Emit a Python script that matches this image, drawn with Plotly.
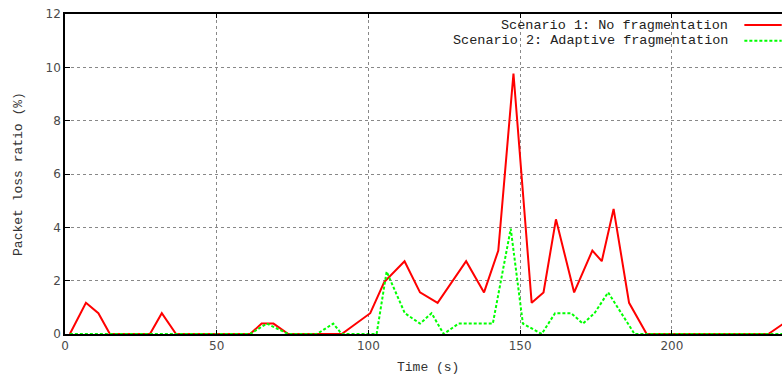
import plotly.graph_objects as go

# Tiempo (s) y tasa de pérdida de paquetes (%)
red_x = [1.6, 6.9, 11.0, 14.8, 28.0, 31.9, 36.6, 61.0, 64.8, 68.7, 73.6, 91.2,
         100.6, 105.2, 111.9, 117.0, 122.8, 127.4, 132.2, 138.1, 142.8, 147.8,
         153.8, 157.7, 161.8, 167.8, 173.8, 176.9, 180.8, 185.9, 191.7, 231.8, 236.8]
red_y = [0, 1.17, 0.78, 0, 0, 0.78, 0, 0, 0.39, 0.39, 0, 0,
         0.78, 1.95, 2.73, 1.56, 1.17, 1.95, 2.73, 1.56, 3.13, 9.77,
         1.17, 1.56, 4.30, 1.56, 3.13, 2.73, 4.69, 1.17, 0, 0, 0.39]

green_x = [1.6, 61.0, 66.5, 73.6, 83.0, 88.4, 91.2, 102.7, 106.0, 112.0, 117.0,
           120.8, 124.8, 129.7, 141.0, 146.9, 150.9, 157.1, 161.5, 166.8, 170.7,
           174.5, 179.0, 187.7, 236.8]
green_y = [0, 0, 0.39, 0, 0, 0.39, 0, 0, 2.34, 0.78, 0.39,
           0.78, 0, 0.39, 0.39, 3.95, 0.39, 0, 0.78, 0.78, 0.39,
           0.78, 1.56, 0, 0]

labels = ['Scenario 1: No fragmentation', 'Scenario 2: Adaptive fragmentation']
colors = ['#ff0000', '#00ff00']
dashes = ['solid', '3px,2px']

mono = 'Liberation Mono, Courier New, monospace'

fig = go.Figure()
fig.add_trace(go.Scatter(x=red_x, y=red_y, mode='lines', name=labels[0],
                         line=dict(color=colors[0], width=2, dash=dashes[0])))
fig.add_trace(go.Scatter(x=green_x, y=green_y, mode='lines', name=labels[1],
                         line=dict(color=colors[1], width=2, dash=dashes[1])))

# leyenda al estilo gnuplot (texto a la izquierda, muestra a la derecha)
leg_y = [0.9656, 0.9166]
for i in range(2):
    fig.add_annotation(x=0.9275, y=leg_y[i], xref='paper', yref='paper',
                       text=labels[i], showarrow=False, xanchor='right',
                       yanchor='middle', font=dict(family=mono, size=13.5, color='#222'))
    fig.add_shape(type='line', xref='paper', yref='paper',
                  x0=0.9475, x1=0.9996, y0=leg_y[i], y1=leg_y[i],
                  line=dict(color=colors[i], width=2, dash=dashes[i]))

# títulos de ejes como anotaciones para fijar su posición
fig.add_annotation(x=0.506, y=-0.106, xref='paper', yref='paper', text='Time (s)',
                   showarrow=False, xanchor='center', yanchor='middle',
                   font=dict(family=mono, size=13, color='#333'))
fig.add_annotation(x=-0.0656, y=0.5, xref='paper', yref='paper',
                   text='Packet loss ratio (%)', textangle=-90, showarrow=False,
                   xanchor='center', yanchor='middle',
                   font=dict(family=mono, size=13, color='#333'))

fig.update_layout(
    width=782, height=376,
    margin=dict(l=65, r=0, t=14, b=42, autoexpand=False),
    plot_bgcolor='white', paper_bgcolor='white',
    showlegend=False,
    font=dict(family='DejaVu Sans, sans-serif', size=12, color='#4a4a4a'),
)
fig.update_xaxes(
    range=[0, 236.3], tickvals=[0, 50, 100, 150, 200], automargin=False,
    showline=True, linecolor='black', linewidth=1.5, mirror='ticks',
    ticks='inside', ticklen=4, tickcolor='black',
    showgrid=True, gridcolor='#888', griddash='dot', gridwidth=1,
    zeroline=False,
)
fig.update_yaxes(
    range=[0, 12], tickvals=[0, 2, 4, 6, 8, 10, 12], automargin=False,
    showline=True, linecolor='black', linewidth=1.5, mirror=False,
    ticks='inside', ticklen=5, tickcolor='black',
    showgrid=True, gridcolor='#888', griddash='dot', gridwidth=1,
    zeroline=False,
)

# quitar el margen por defecto del body para que la figura ocupe la ventana
fig.write_html('out.html', config={'displayModeBar': False},
               post_script="document.body.style.margin='0';")
